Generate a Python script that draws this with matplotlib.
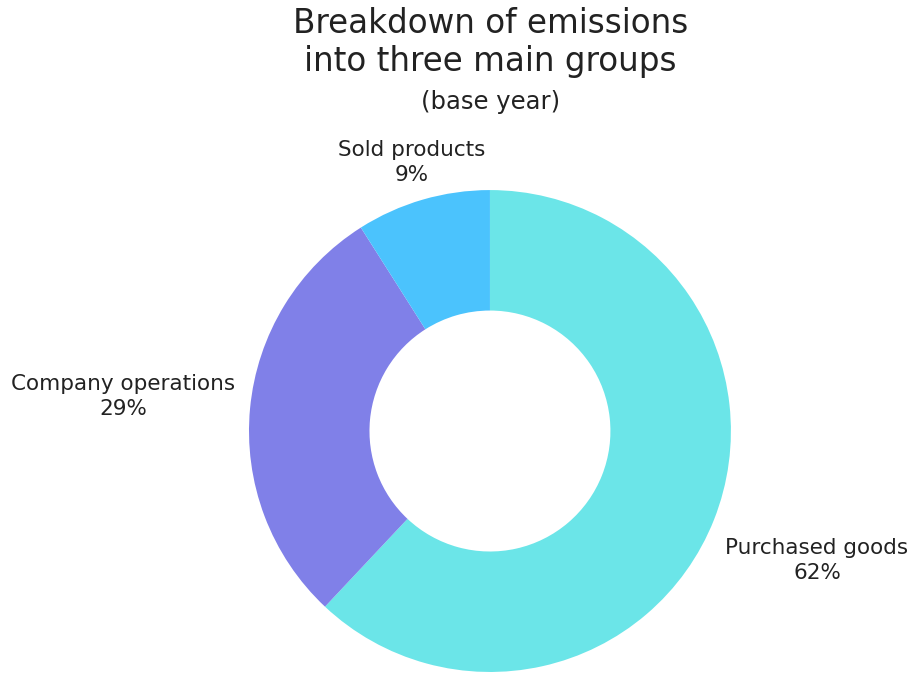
import numpy as np
import matplotlib.pyplot as plt

labels = ["Purchased goods", "Company operations", "Sold products"]
shares = [62, 29, 9]
colors = ["#6be5e8", "#8080e8", "#4bc3fd"]
label_dist = [1.46, 1.53, 1.16]

fig = plt.figure(figsize=(9.17, 6.74), dpi=100)
ax = fig.add_axes([0.2715, 0.003, 0.5256, 0.715])

wedges, _ = ax.pie(shares, colors=colors, startangle=90, counterclock=False,
                   radius=1, wedgeprops=dict(width=0.5, edgecolor="none"))
ax.set_xlim(-1, 1)
ax.set_ylim(-1, 1)
ax.set_aspect("equal")

# labels sit outside each wedge, along its middle angle
for w, name, val, d in zip(wedges, labels, shares, label_dist):
    ang = np.deg2rad((w.theta1 + w.theta2) / 2)
    ax.text(d * np.cos(ang), d * np.sin(ang), f"{name}\n{val}%",
            ha="center", va="center", fontsize=15.5, color="#222222",
            linespacing=1.3, clip_on=False)

fig.text(0.535, 0.937, "Breakdown of emissions\ninto three main groups",
         ha="center", va="center", fontsize=23.5, color="#222222", linespacing=1.2)
fig.text(0.535, 0.849, "(base year)", ha="center", va="center",
         fontsize=17.5, color="#222222")

fig.savefig("out.png", dpi=100)
